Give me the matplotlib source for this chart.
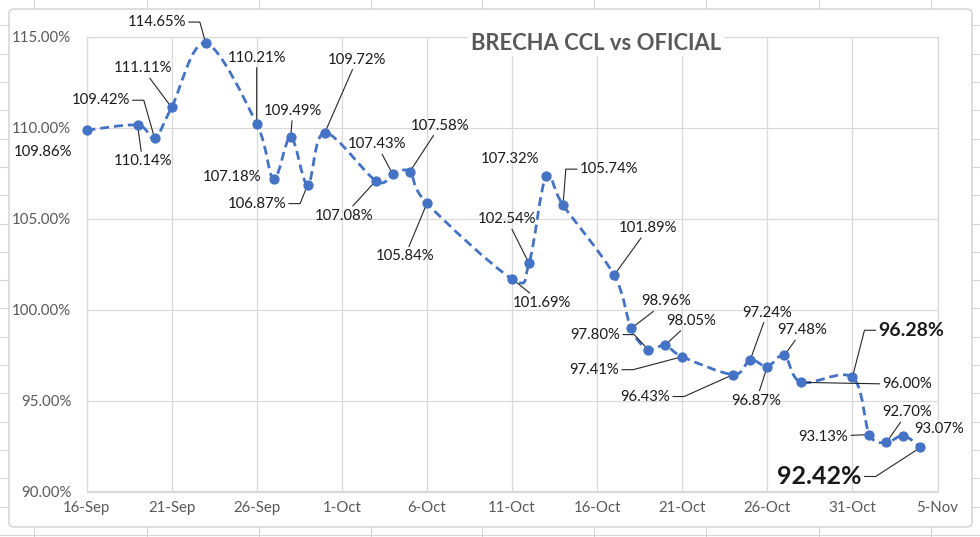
import datetime as dt

import matplotlib
matplotlib.use("Agg")
import matplotlib.pyplot as plt
import matplotlib.dates as mdates
from matplotlib.path import Path
from matplotlib.patches import PathPatch, FancyBboxPatch
from matplotlib.lines import Line2D
from matplotlib.transforms import IdentityTransform
from matplotlib.ticker import FixedLocator, FuncFormatter

plt.rcParams['font.family'] = ['Lato', 'DejaVu Sans']

# data
dias = ["2022-09-16", "2022-09-19", "2022-09-20", "2022-09-21", "2022-09-23",
        "2022-09-26", "2022-09-27", "2022-09-28", "2022-09-29", "2022-09-30",
        "2022-10-03", "2022-10-04", "2022-10-05", "2022-10-06", "2022-10-11",
        "2022-10-12", "2022-10-13", "2022-10-14", "2022-10-17", "2022-10-18",
        "2022-10-19", "2022-10-20", "2022-10-21", "2022-10-24", "2022-10-25",
        "2022-10-26", "2022-10-27", "2022-10-28", "2022-10-31", "2022-11-01",
        "2022-11-02", "2022-11-03", "2022-11-04"]
brecha = [109.86, 110.14, 109.42, 111.11, 114.65, 110.21, 107.18, 109.49, 106.87, 109.72,
          107.08, 107.43, 107.58, 105.84, 101.69, 102.54, 107.32, 105.74, 101.89, 98.96,
          97.80, 98.05, 97.41, 96.43, 97.24, 96.87, 97.48, 96.00, 96.28, 93.13,
          92.70, 93.07, 92.42]
x_ticks = ["2022-09-16", "2022-09-21", "2022-09-26", "2022-10-01", "2022-10-06", "2022-10-11",
           "2022-10-16", "2022-10-21", "2022-10-26", "2022-10-31", "2022-11-05"]
y_ticks = [90, 95, 100, 105, 110, 115]
titulo = "BRECHA CCL vs OFICIAL"

# label placement (pixel offsets of the label centre, y down) and leader type
label_pos = [(-43, 22, None), (5, 36, 'line'), (-54, -38, 'right'), (-29, -39, 'line'),
             (-49, -21, 'right'), (0, -66, 'line'), (-42, -2, None), (2, -26, 'line'),
             (-51, 19, 'right'), (32, -73, 'line'), (-32, 35, 'line'), (-16, -30, 'line'),
             (30, -46, 'line'), (-22, 53, 'line'), (30, 24, 'line'), (-22, -44, 'line'),
             (-36, -17, None), (46, -36, 'left'), (34, -47, 'line'), (35, -27, 'line'),
             (-53, -15, 'right'), (26, -24, 'line'), (-88, 13, 'right'), (-88, 22, 'right'),
             (17, -47, 'line'), (-11, 34, 'line'), (18, -25, 'line'), (106, 2, 'line'),
             (59, -47, 'left'), (-46, 2, 'line'), (21, -30, 'line'), (36, -7, None),
             (-101, 29, 'right')]
big_labels = {28: 14, 32: 18}

BLUE = "#4472C4"
GRID = "#D9D9D9"
TXT = "#595959"


def smooth_path(xs, ys):
    # Bezier path through the points, like Excel's "smoothed line"
    verts = [(xs[0], ys[0])]
    codes = [Path.MOVETO]
    n = len(xs)
    for i in range(n - 1):
        xp, yp = (xs[i - 1], ys[i - 1]) if i > 0 else (xs[i], ys[i])
        xn, yn = (xs[i + 2], ys[i + 2]) if i + 2 < n else (xs[i + 1], ys[i + 1])
        c1 = (xs[i] + (xs[i + 1] - xp) / 6, ys[i] + (ys[i + 1] - yp) / 6)
        c2 = (xs[i + 1] - (xn - xs[i]) / 6, ys[i + 1] - (yn - ys[i]) / 6)
        verts += [c1, c2, (xs[i + 1], ys[i + 1])]
        codes += [Path.CURVE4] * 3
    return Path(verts, codes)


fechas = [dt.datetime.strptime(d, "%Y-%m-%d") for d in dias]
xnum = mdates.date2num(fechas)
tick_num = mdates.date2num([dt.datetime.strptime(d, "%Y-%m-%d") for d in x_ticks])

fig = plt.figure(figsize=(9.8, 5.37), dpi=100)
W, H = 980, 537
ax = fig.add_axes([86.5 / W, 1 - 491.5 / H, (937.5 - 86.5) / W, (491.5 - 36.7) / H])

ax.add_patch(PathPatch(smooth_path(list(xnum), brecha), fill=False, edgecolor=BLUE,
                       lw=2.0, linestyle=(0, (3.2, 1.8)), zorder=3, capstyle='butt'))
ax.plot(xnum, brecha, 'o', color=BLUE, ms=6.4, zorder=5, clip_on=False)

ax.set_xlim(tick_num[0], tick_num[-1])
ax.set_ylim(90, 115)
ax.xaxis.set_major_locator(FixedLocator(tick_num))
ax.xaxis.set_major_formatter(FuncFormatter(
    lambda v, _: f"{mdates.num2date(v).day}-{mdates.num2date(v).strftime('%b')}"))
ax.yaxis.set_major_locator(FixedLocator(y_ticks))
ax.yaxis.set_major_formatter(FuncFormatter(lambda v, _: f"{v:.2f}%"))
ax.grid(color=GRID, lw=0.9)
ax.set_axisbelow(True)
for s in ax.spines.values():
    s.set_color(GRID)
    s.set_linewidth(0.9)
ax.tick_params(axis='both', length=0, colors=TXT, labelsize=10.8)
ax.tick_params(axis='y', pad=11)
ax.tick_params(axis='x', pad=7)

for i, (x, v) in enumerate(zip(xnum, brecha)):
    dx, dy, leader = label_pos[i]
    size = big_labels.get(i, 10.7)
    weight = 'bold' if i in big_labels else 'normal'
    props = None
    if leader == 'line':
        props = dict(arrowstyle='-', color='#262626', lw=0.8, shrinkA=0, shrinkB=1)
    elif leader in ('right', 'left'):
        ang = 0 if leader == 'right' else 180
        props = dict(arrowstyle='-', color='#262626', lw=0.8, shrinkA=0, shrinkB=1,
                     relpos=(1, 0.5) if leader == 'right' else (0, 0.5),
                     connectionstyle=f"arc,angleA={ang},angleB=0,armA=14,armB=0,rad=0")
    ax.annotate(f"{v:.2f}%", xy=(x, v), xytext=(dx, -dy), textcoords='offset pixels',
                ha='center', va='center', fontsize=size, fontweight=weight,
                color='#1a1a1a', arrowprops=props, zorder=4)

fig.text(596 / W, 1 - 43 / H, titulo, ha='center', va='center', fontsize=15.8,
         fontweight='bold', color=TXT,
         bbox=dict(facecolor='white', edgecolor='none', pad=2))

# chart frame and the worksheet cells around it
fig.add_artist(FancyBboxPatch((9, 10), 963, 518, boxstyle="round,pad=0,rounding_size=5",
                              transform=IdentityTransform(), fill=False, ec="#D0D0D0", lw=1))
cell = "#D6D6D6"
for cx in [34, 147, 259, 371, 482, 594, 706, 819, 931]:
    fig.add_artist(Line2D([cx, cx], [528, 537], color=cell, lw=0.8, transform=IdentityTransform()))
    fig.add_artist(Line2D([cx, cx], [0, 10], color=cell, lw=0.8, transform=IdentityTransform()))
fig.add_artist(Line2D([0, 980], [2.5, 2.5], color=cell, lw=0.8, transform=IdentityTransform()))
for k in range(18):
    ry = H - (25.4 + 28.3 * k)
    fig.add_artist(Line2D([0, 9], [ry, ry], color=cell, lw=0.8, transform=IdentityTransform()))
    fig.add_artist(Line2D([972, 980], [ry, ry], color=cell, lw=0.8, transform=IdentityTransform()))

fig.savefig("out.png", dpi=100)
